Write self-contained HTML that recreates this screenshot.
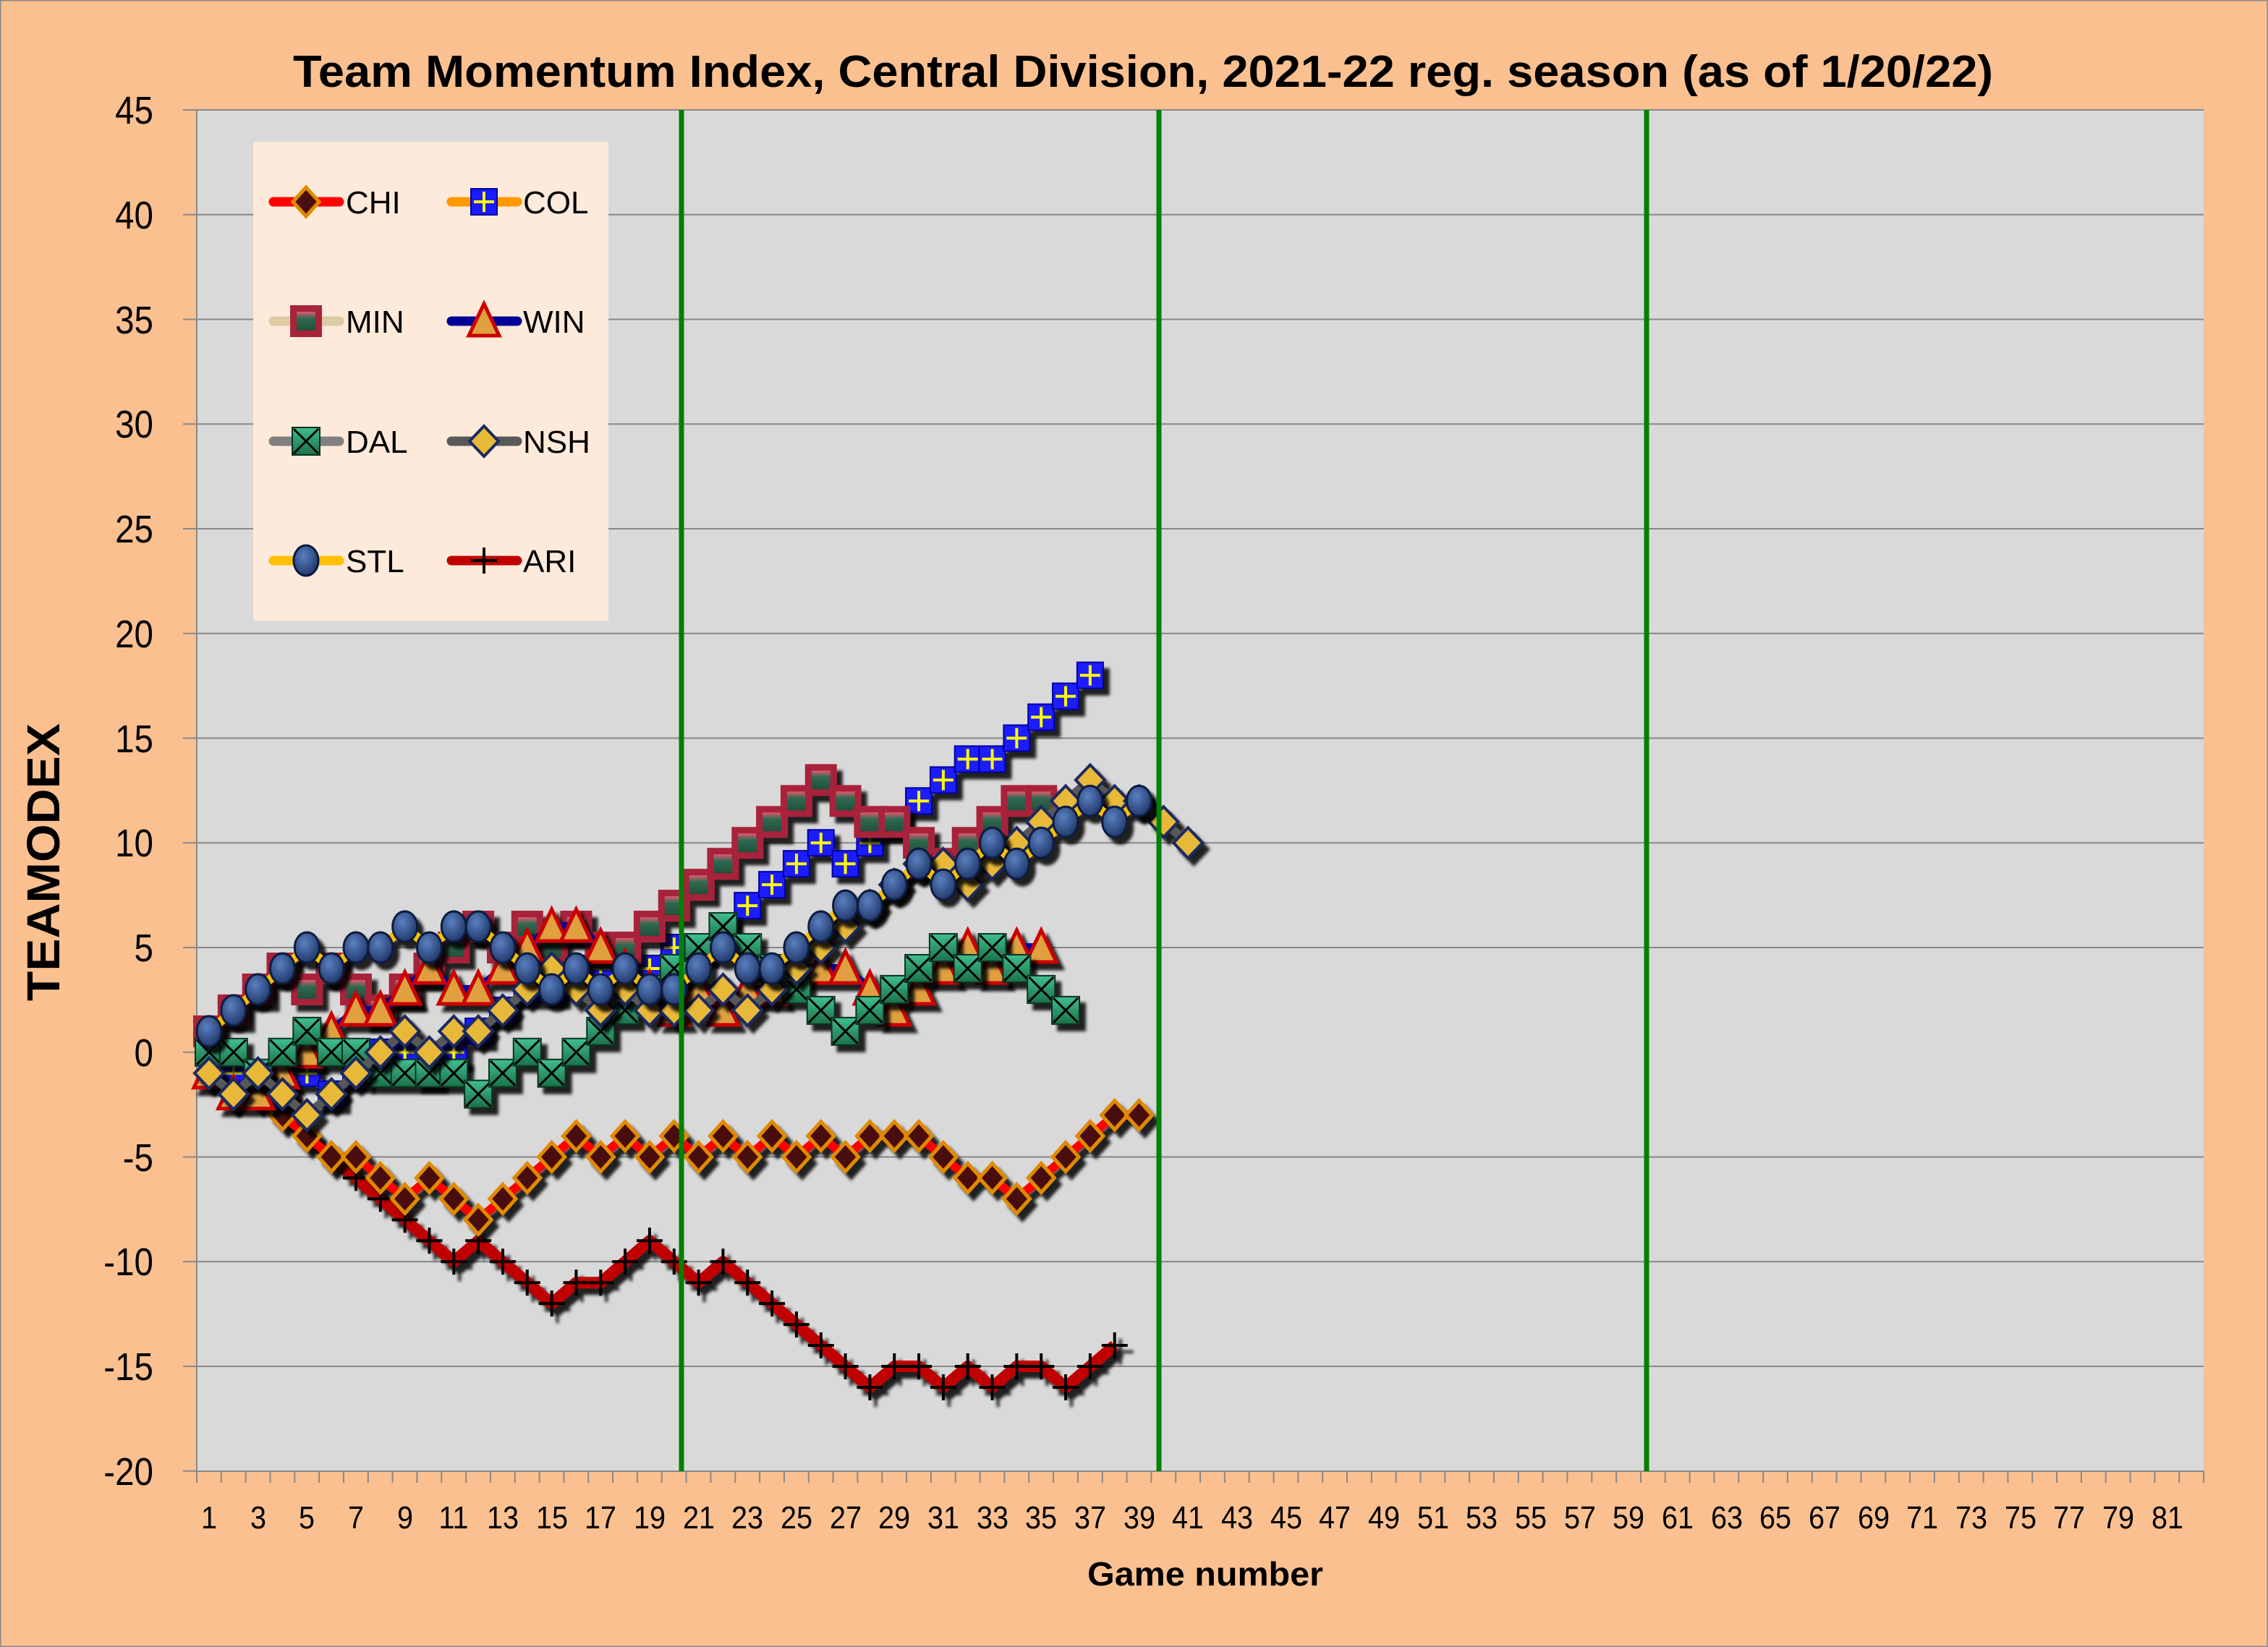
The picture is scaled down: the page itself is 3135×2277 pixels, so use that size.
<!DOCTYPE html>
<html><head><meta charset="utf-8"><style>
html,body{margin:0;padding:0;background:#FAC090;}
svg{display:block;}
text{font-family:"Liberation Sans",sans-serif;fill:#000;}
</style></head><body>
<svg id="c" width="3135" height="2277" viewBox="0 0 3135 2277" xmlns="http://www.w3.org/2000/svg">
<defs>
<filter id="sh" x="-50%" y="-50%" width="200%" height="200%"><feDropShadow dx="8" dy="9" stdDeviation="2" flood-color="#000" flood-opacity="0.85"/></filter>
<radialGradient id="gstl" cx="0.4" cy="0.35" r="0.7"><stop offset="0" stop-color="#5a7fc0"/><stop offset="1" stop-color="#1d3566"/></radialGradient>
<linearGradient id="gmin" x1="0" y1="0" x2="0" y2="1"><stop offset="0" stop-color="#e05a70"/><stop offset="0.35" stop-color="#2f6a50"/><stop offset="1" stop-color="#234f3c"/></linearGradient>
<linearGradient id="gdal" x1="0" y1="0" x2="0" y2="1"><stop offset="0" stop-color="#40c090"/><stop offset="1" stop-color="#1a7048"/></linearGradient>
</defs>
<rect x="0.5" y="0.5" width="3134" height="2276" fill="#FAC090" stroke="#888" stroke-width="2"/>
<rect x="272" y="152" width="2774" height="1882" fill="#D9D9D9"/>
<g id="grid" stroke="#888" stroke-width="2"></g>
<g id="ticks" stroke="#888" stroke-width="2"></g>
<g id="series"></g>
<line x1="942" y1="152" x2="942" y2="2034" stroke="#008000" stroke-width="7"/>
<line x1="1602" y1="152" x2="1602" y2="2034" stroke="#008000" stroke-width="7"/>
<line x1="2276" y1="152" x2="2276" y2="2034" stroke="#008000" stroke-width="7"/>
<line x1="274" y1="1455" x2="3046" y2="1455" stroke="#000" stroke-width="20" stroke-dasharray="83 62" filter="url(#sh)"/>
<rect x="350" y="196" width="491" height="662" fill="#FDEADA"/>
<g id="leg"></g>
<g font-size="44">
<text x="478" y="295">CHI</text><text x="723" y="295">COL</text>
<text x="478" y="460">MIN</text><text x="723" y="460">WIN</text>
<text x="478" y="626">DAL</text><text x="723" y="626">NSH</text>
<text x="478" y="791">STL</text><text x="723" y="791">ARI</text>
</g>
<text x="1580" y="120" font-size="62" font-weight="bold" text-anchor="middle" textLength="2350" lengthAdjust="spacingAndGlyphs">Team Momentum Index, Central Division, 2021-22 reg. season (as of 1/20/22)</text>
<text x="1666" y="2192" font-size="46" font-weight="bold" text-anchor="middle" textLength="326" lengthAdjust="spacingAndGlyphs">Game number</text>
<text transform="translate(82,1192) rotate(-90)" font-size="64" font-weight="bold" text-anchor="middle" textLength="384" lengthAdjust="spacingAndGlyphs">TEAMODEX</text>
<g font-size="54" text-anchor="end" transform="translate(212,0) scale(0.88,1) translate(-212,0)">
<text x="212" y="171">45</text><text x="212" y="316">40</text><text x="212" y="461">35</text><text x="212" y="605">30</text><text x="212" y="750">25</text><text x="212" y="895">20</text><text x="212" y="1040">15</text><text x="212" y="1184">10</text><text x="212" y="1329">5</text><text x="212" y="1474">0</text><text x="212" y="1619">-5</text><text x="212" y="1763">-10</text><text x="212" y="1908">-15</text><text x="212" y="2053">-20</text>
</g>
<g font-size="44" text-anchor="middle" id="xl">
<text x="289" y="2113">1</text><text x="357" y="2113">3</text><text x="424" y="2113">5</text><text x="492" y="2113">7</text><text x="560" y="2113">9</text><text x="627" y="2113">11</text><text x="695" y="2113">13</text><text x="763" y="2113">15</text><text x="830" y="2113">17</text><text x="898" y="2113">19</text><text x="966" y="2113">21</text><text x="1033" y="2113">23</text><text x="1101" y="2113">25</text><text x="1169" y="2113">27</text><text x="1236" y="2113">29</text><text x="1304" y="2113">31</text><text x="1372" y="2113">33</text><text x="1439" y="2113">35</text><text x="1507" y="2113">37</text><text x="1575" y="2113">39</text><text x="1642" y="2113">41</text><text x="1710" y="2113">43</text><text x="1778" y="2113">45</text><text x="1845" y="2113">47</text><text x="1913" y="2113">49</text><text x="1981" y="2113">51</text><text x="2048" y="2113">53</text><text x="2116" y="2113">55</text><text x="2184" y="2113">57</text><text x="2251" y="2113">59</text><text x="2319" y="2113">61</text><text x="2387" y="2113">63</text><text x="2454" y="2113">65</text><text x="2522" y="2113">67</text><text x="2590" y="2113">69</text><text x="2657" y="2113">71</text><text x="2725" y="2113">73</text><text x="2793" y="2113">75</text><text x="2860" y="2113">77</text><text x="2928" y="2113">79</text><text x="2996" y="2113">81</text>
</g>
</svg>
<script>
(function(){
var NS="http://www.w3.org/2000/svg";
function el(t,a,p){var e=document.createElementNS(NS,t);for(var k in a)e.setAttribute(k,a[k]);if(p)p.appendChild(e);return e;}
function X(n){return 289+(n-1)*33.83;}
function Y(v){return 152+(45-v)*28.95;}
var xl=document.getElementById('xl').children;
for(var i=0;i<xl.length;i++){var x=+xl[i].getAttribute('x');xl[i].setAttribute('transform','translate('+x+',0) scale(0.9,1) translate('+(-x)+',0)');}
var grid=document.getElementById('grid');
for(var v=-15;v<=45;v+=5){if(v===0)continue;el('line',{x1:272,x2:3046,y1:Y(v),y2:Y(v)},grid);}
var tk=document.getElementById('ticks');
el('line',{x1:272,x2:272,y1:152,y2:2034},tk);
el('line',{x1:272,x2:3046,y1:2034,y2:2034},tk);
for(var v=-20;v<=45;v+=5)el('line',{x1:253,x2:272,y1:Y(v),y2:Y(v)},tk);
for(var k=0;k<=82;k++){var x=272+k*33.83;el('line',{x1:x,x2:x,y1:2034,y2:2050},tk);}
function marker(type,g,x,y){
 var m=el('g',{transform:'translate('+x+','+y+')'},g);
 switch(type){
 case 'CHI':el('polygon',{points:'0,-20 18,0 0,20 -18,0',fill:'#4a1010',stroke:'#e08a00','stroke-width':5},m);break;
 case 'COL':el('rect',{x:-18,y:-18,width:36,height:36,fill:'#1a1aff',stroke:'#0000a0','stroke-width':2},m);
   el('path',{d:'M0,-14V14M-14,0H14',stroke:'#ffff00','stroke-width':4},m);break;
 case 'MIN':el('rect',{x:-22,y:-22,width:44,height:44,fill:'#a8243a'},m);
   el('rect',{x:-13,y:-13,width:26,height:26,fill:'url(#gmin)'},m);break;
 case 'WIN':el('polygon',{points:'0,-24 21,20 -21,20',fill:'#e0a040',stroke:'#cc0000','stroke-width':5},m);break;
 case 'DAL':el('rect',{x:-19,y:-19,width:38,height:38,fill:'url(#gdal)',stroke:'#0a3020','stroke-width':2},m);
   el('path',{d:'M-17,-17L17,17M17,-17L-17,17',stroke:'#000','stroke-width':3},m);break;
 case 'NSH':el('polygon',{points:'0,-21 20,0 0,21 -20,0',fill:'#e8b838',stroke:'#1a2a60','stroke-width':4},m);break;
 case 'STL':el('ellipse',{rx:17,ry:21,fill:'url(#gstl)',stroke:'#0a1a40','stroke-width':3},m);break;
 case 'ARI':el('path',{d:'M0,-18V18M-18,0H18',stroke:'#000','stroke-width':4},m);break;
 }
}
var S=[
['ARI','#c00000',16,[-1,-1,-2,-3,-4,-5,-6,-7,-8,-9,-10,-9,-10,-11,-12,-11,-11,-10,-9,-10,-11,-10,-11,-12,-13,-14,-15,-16,-15,-15,-16,-15,-16,-15,-15,-16,-15,-14]],
['CHI','#ff0000',12,[-1,-2,-2,-3,-4,-5,-5,-6,-7,-6,-7,-8,-7,-6,-5,-4,-5,-4,-5,-4,-5,-4,-5,-4,-5,-4,-5,-4,-4,-4,-5,-6,-6,-7,-6,-5,-4,-3,-3]],
['COL','#ff9900',12,[0,-1,-1,-2,-1,-2,-1,0,0,-1,0,1,2,3,3,4,4,4,4,5,5,6,7,8,9,10,9,10,11,12,13,14,14,15,16,17,18]],
['MIN','#ddcba4',12,[1,2,3,4,3,4,3,2,3,4,5,6,5,6,5,6,5,5,6,7,8,9,10,11,12,13,12,11,11,10,9,10,11,12,12]],
['WIN','#000099',12,[-1,-2,-2,-1,0,1,2,2,3,4,3,3,4,5,6,6,5,4,3,2,3,2,3,3,4,4,4,3,2,3,4,5,4,5,5]],
['DAL','#808080',12,[0,0,-1,0,1,0,0,-1,-1,-1,-1,-2,-1,0,-1,0,1,2,3,4,5,6,5,4,3,2,1,2,3,4,5,4,5,4,3,2]],
['NSH','#595959',12,[-1,-2,-1,-2,-3,-2,-1,0,1,0,1,1,2,3,4,3,2,3,2,2,2,3,2,3,4,5,6,7,8,9,9,8,9,10,11,12,13,12,12,11,10]],
['STL','#ffc000',12,[1,2,3,4,5,4,5,5,6,5,6,6,5,4,3,4,3,4,3,3,4,5,4,4,5,6,7,7,8,9,8,9,10,9,10,11,12,11,12]]
];
var sg=document.getElementById('series');
S.forEach(function(s){
 var g=el('g',{filter:'url(#sh)'},sg);
 var pts=s[3].map(function(v,i){return X(i+1)+','+Y(v);}).join(' ');
 el('polyline',{points:pts,fill:'none',stroke:s[1],'stroke-width':s[2],'stroke-linejoin':'round'},g);
 s[3].forEach(function(v,i){marker(s[0],g,X(i+1),Y(v));});
});
var lg=document.getElementById('leg');
var L=[['CHI',373,279],['COL',619,279],['MIN',373,444],['WIN',619,444],['DAL',373,610],['NSH',619,610],['STL',373,775],['ARI',619,775]];
L.forEach(function(l){
 var s=S.filter(function(q){return q[0]===l[0];})[0];
 el('line',{x1:l[1]+5,x2:l[1]+96,y1:l[2],y2:l[2],stroke:s[1],'stroke-width':13,'stroke-linecap':'round'},lg);
 var g=el('g',{},lg);marker(l[0],g,l[1]+50,l[2]);
});
})();
</script>
</body></html>
